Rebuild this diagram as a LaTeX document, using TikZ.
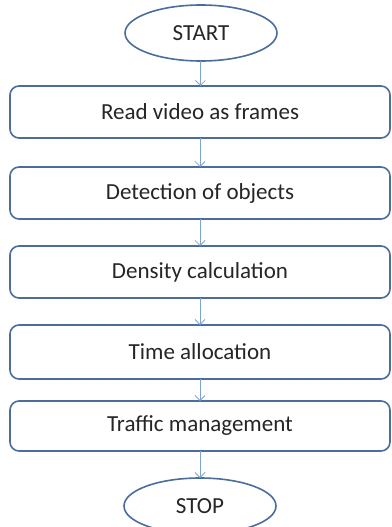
\documentclass[tikz,border=0pt]{standalone}
\usepackage{fontspec}
\setmainfont{Carlito}
\usetikzlibrary{positioning,shapes.geometric,arrows.meta}

\definecolor{edgeblue}{HTML}{4A6D9C}
\definecolor{arrowblue}{HTML}{7FA3D0}
\definecolor{txtgray}{HTML}{262626}

\tikzstyle{stepbox} = [draw=edgeblue, rectangle, rounded corners=9pt, line width=1.6pt, outer sep=0pt, minimum width=380pt, minimum height=52pt, fill=white, text=txtgray, font=\fontsize{23}{26}\selectfont]
\tikzstyle{terminal} = [draw=edgeblue, ellipse, line width=1.6pt, outer sep=0pt, minimum width=152pt, minimum height=56pt, fill=white, text=txtgray, font=\fontsize{23}{26}\selectfont]
\tikzstyle{flow} = [draw=arrowblue, line width=0.8pt, -{Straight Barb[length=5pt,width=10pt]}]

\begin{document}
\begin{tikzpicture}[x=1pt,y=1pt,node distance=27pt]
\useasboundingbox (0,0) rectangle (391,-527);

\node[terminal] (start) at (201,-33) {START};
\node[stepbox] (read) at (200,-112) {Read video as frames};
\node[stepbox,below=29pt of read] (detect) {Detection of objects};
\node[stepbox,below=of detect] (density) {Density calculation};
\node[stepbox,below=of density,minimum height=54pt] (time) {Time allocation};
\node[stepbox,below=22pt of time,minimum height=50pt] (traffic) {Traffic management};
\node[terminal,below=of traffic] (stop) {STOP};

\draw[flow] (start) -- (read);
\draw[flow] (read) -- (detect);
\draw[flow] (detect) -- (density);
\draw[flow] (density) -- (time);
\draw[flow] (time) -- (traffic);
\draw[flow] (traffic) -- (stop);

\end{tikzpicture}
\end{document}
